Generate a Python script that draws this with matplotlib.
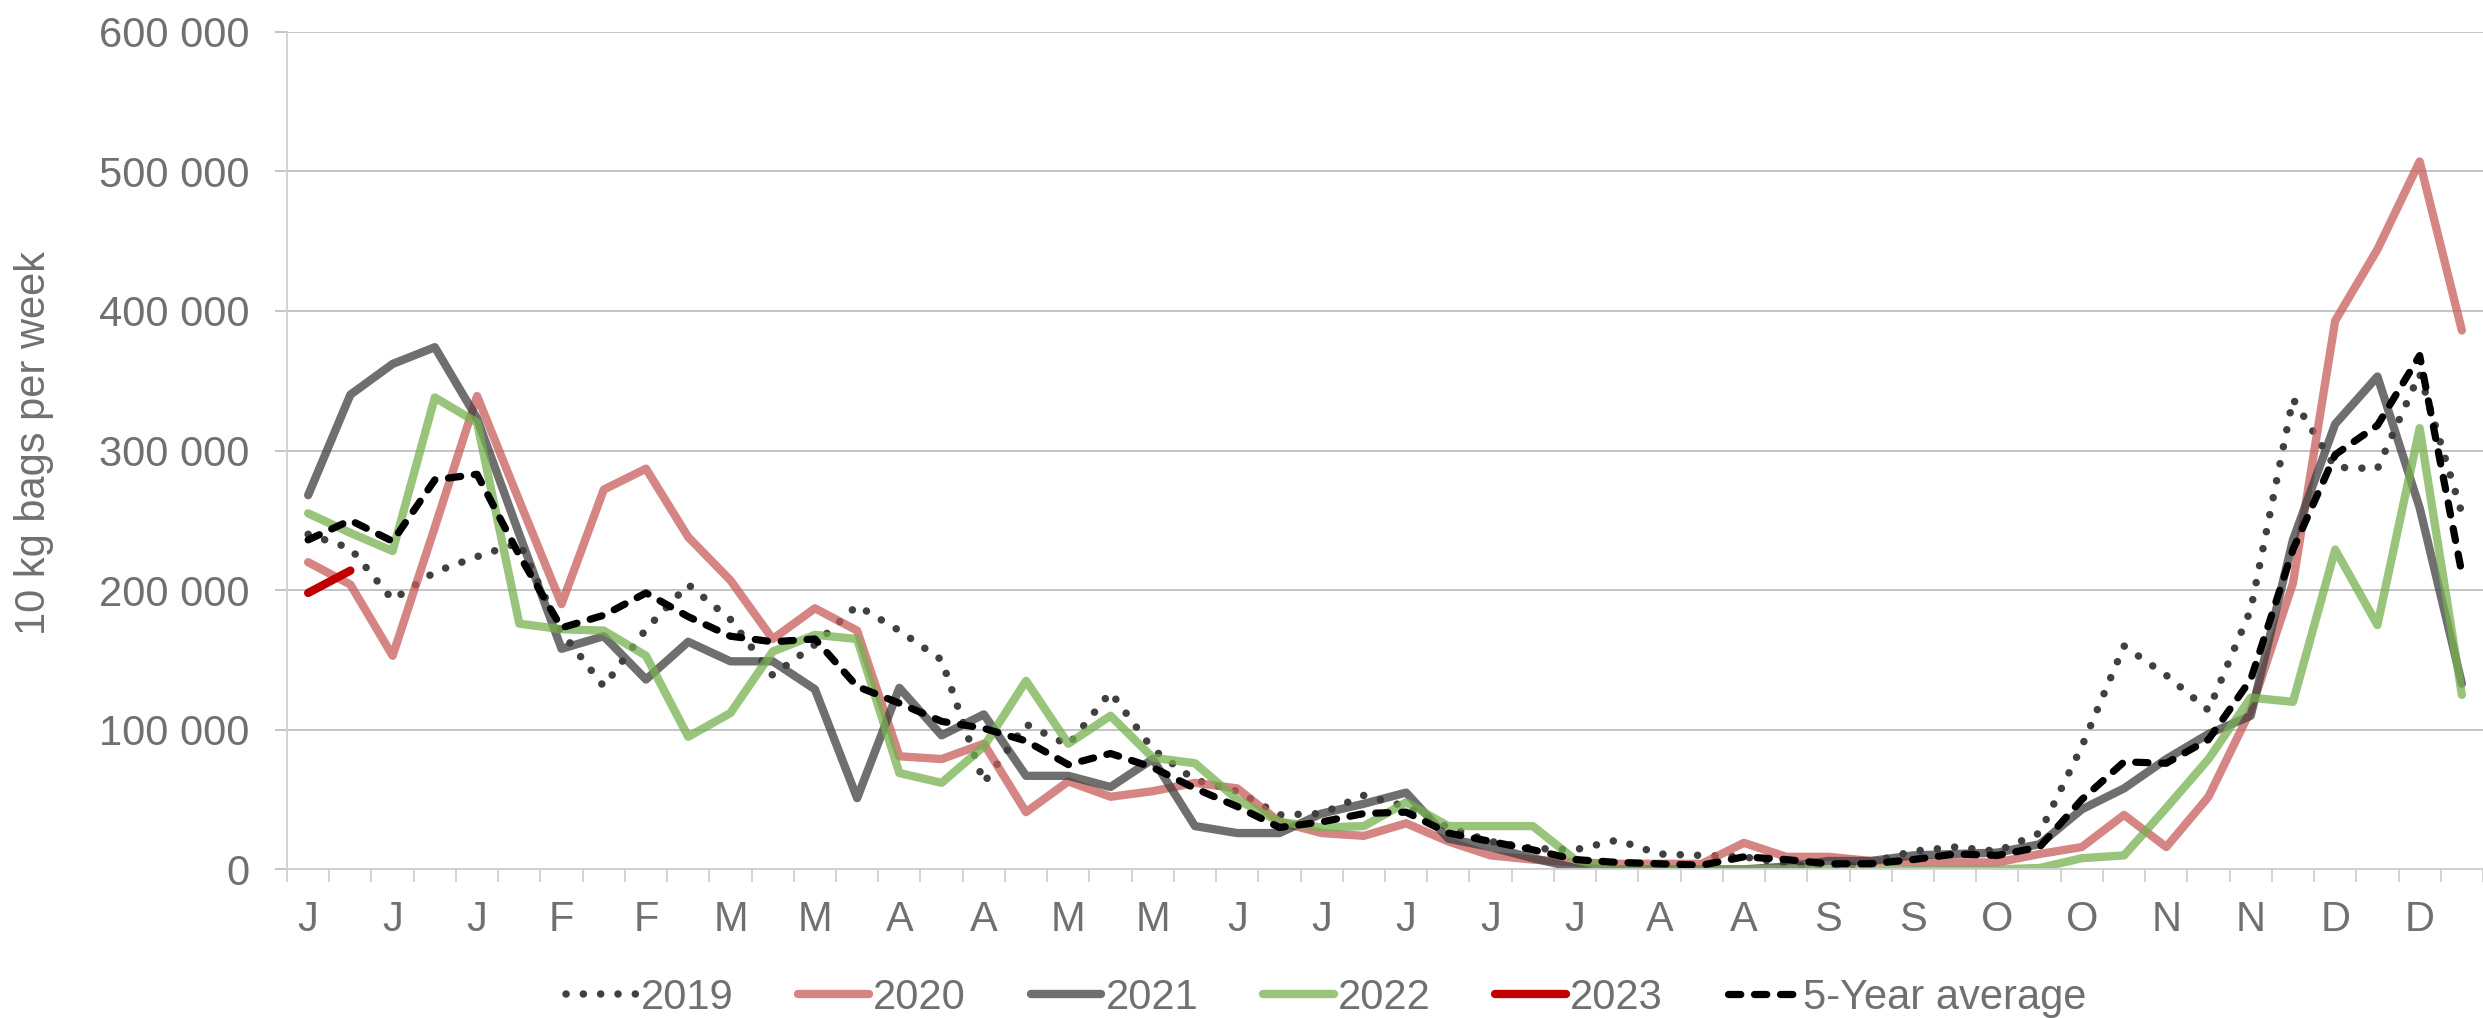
import numpy as np
import matplotlib
matplotlib.use("Agg")
import matplotlib.pyplot as plt
from matplotlib.ticker import FuncFormatter

# weekly volumes, thousands of 10 kg bags (52 weeks)
weeks = np.arange(52)
month_labels = ['J', 'J', 'J', 'F', 'F', 'M', 'M', 'A', 'A', 'M', 'M', 'J', 'J',
                'J', 'J', 'J', 'A', 'A', 'S', 'S', 'O', 'O', 'N', 'N', 'D', 'D']

y2019 = [240, 230, 193, 213, 224, 234, 170, 131, 172, 204, 179, 139, 161,
         189, 171, 150, 62, 104, 89, 127, 86, 64, 56, 39, 40, 53,
         45, 30, 20, 15, 14, 21, 11, 10, 9, 4, 1, 5, 13,
         16, 13, 26, 88, 160, 139, 114, 186, 337, 288, 287, 355, 255]
y2020 = [220, 204, 153, 245, 339, 264, 190, 272, 287, 238, 207, 165, 187,
         171, 81, 79, 90, 41, 63, 52, 56, 62, 58, 34, 26, 24,
         33, 20, 10, 7, 5, 4, 4, 4, 19, 9, 9, 6, 5,
         5, 5, 11, 16, 39, 16, 52, 114, 205, 393, 444, 507, 386]
y2021 = [268, 340, 362, 374, 323, 240, 158, 167, 136, 163, 149, 149, 129,
         51, 130, 96, 111, 67, 67, 59, 79, 31, 26, 26, 40, 47,
         55, 22, 16, 8, 1, 0, 0, 0, 0, 2, 6, 6, 10,
         11, 12, 18, 43, 58, 79, 97, 110, 236, 319, 353, 259, 133]
y2022 = [255, 241, 228, 338, 320, 176, 172, 171, 153, 95, 112, 156, 168,
         165, 69, 62, 88, 135, 90, 110, 80, 76, 50, 34, 30, 31,
         48, 31, 31, 31, 7, 0, 0, 0, 0, 0, 0, 0, 0,
         0, 0, 1, 8, 10, 44, 79, 123, 120, 229, 175, 316, 125]
y2023 = [198, 214]
avg5 = [236, 250, 235, 279, 283, 225, 173, 182, 198, 181, 167, 163, 165,
        131, 119, 106, 101, 92, 75, 83, 73, 58, 45, 30, 34, 40,
        41, 26, 20, 14, 7, 5, 4, 3, 9, 7, 4, 4, 7,
        11, 10, 16, 50, 77, 76, 93, 136, 229, 297, 318, 368, 212]

txt = '#707070'
font = 'Liberation Sans'

fig, ax = plt.subplots(figsize=(24.83, 10.18), dpi=100)
fig.subplots_adjust(left=0.1156, right=1.0, top=0.9689, bottom=0.146)

k = 1000
ax.plot(weeks, np.array(y2019) * k, color='#404040', lw=5.4, linestyle=(0, (0.01, 2.3)),
        dash_capstyle='round', label='2019')
ax.plot(weeks, np.array(y2020) * k, color='#c75c5a', lw=6, alpha=0.75,
        solid_capstyle='round', label='2020')
ax.plot(weeks, np.array(y2021) * k, color='#3f3f3f', lw=6, alpha=0.75,
        solid_capstyle='round', label='2021')
ax.plot(weeks, np.array(y2022) * k, color='#76b050', lw=6, alpha=0.75,
        solid_capstyle='round', label='2022')
ax.plot(weeks[:len(y2023)], np.array(y2023) * k, color='#c00000', lw=6,
        solid_capstyle='round', label='2023')
ax.plot(weeks, np.array(avg5) * k, color='black', lw=5.2, linestyle=(0, (1.7, 1.9)),
        dash_capstyle='round', label='5-Year average')

ax.set_ylim(0, 600000)
ax.set_xlim(-0.5, 51.5)
ax.set_yticks(np.arange(0, 600001, 100000))
ax.yaxis.set_major_formatter(FuncFormatter(lambda v, p: f'{v:,.0f}'.replace(',', ' ')))
ax.grid(axis='y', color='#bfbfbf', lw=1.3)
ax.set_axisbelow(True)

ax.set_xticks(np.arange(-0.5, 52, 1))
ax.set_xticklabels([])
ax.set_xticks(np.arange(0, 52, 2), minor=True)
ax.set_xticklabels(month_labels, minor=True)
ax.tick_params(axis='x', which='major', length=9, width=1.3, color='#d0d0d0')
ax.tick_params(axis='x', which='minor', length=0, pad=22, labelsize=30, labelcolor=txt)
ax.tick_params(axis='y', length=9, width=1.3, color='#bfbfbf', pad=18, labelsize=30, labelcolor=txt)
for lab in ax.get_xticklabels(minor=True) + ax.get_yticklabels():
    lab.set_family(font)

for s in ['top', 'right']:
    ax.spines[s].set_visible(False)
ax.spines['left'].set_color('#d0d0d0')
ax.spines['bottom'].set_color('#d0d0d0')
ax.spines['left'].set_linewidth(1.3)
ax.spines['bottom'].set_linewidth(1.3)

ax.set_ylabel('10 kg bags per week', fontsize=30, color=txt, family=font)
ax.yaxis.set_label_coords(-0.106, 0.509)

fig.legend(loc='center', bbox_to_anchor=(0.534, 0.0196), ncol=6, frameon=False,
           prop={'family': font, 'size': 30}, labelcolor=txt, handlelength=1.7,
           handletextpad=0.1, columnspacing=1.55, borderpad=0)

fig.savefig('out.png', dpi=100)
